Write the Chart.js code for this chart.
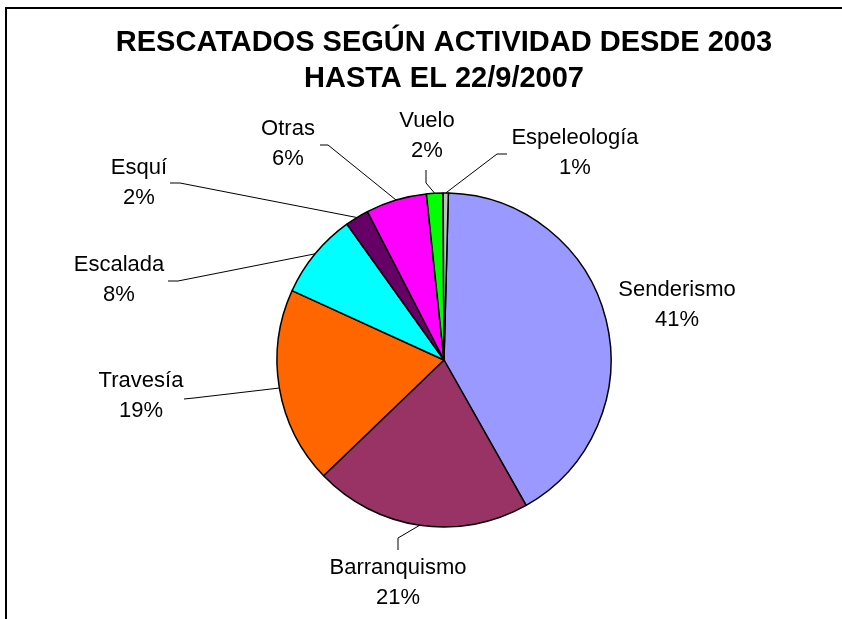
<!DOCTYPE html>
<html>
<head>
<meta charset="utf-8">
<script src="https://cdn.jsdelivr.net/npm/chart.js@4.4.0/dist/chart.umd.min.js"></script>
<style>
  html, body { margin: 0; padding: 0; background: #fff; }
  #wrap { position: relative; width: 842px; height: 619px; }
</style>
</head>
<body>
<div id="wrap"><canvas id="c" width="842" height="619"></canvas></div>
<script>
// ---- data ----
const titleLines = ['RESCATADOS SEGÚN ACTIVIDAD DESDE 2003', 'HASTA EL 22/9/2007'];
const categories = ['Senderismo', 'Barranquismo', 'Travesía', 'Escalada', 'Esquí', 'Otras', 'Vuelo', 'Espeleología'];
const shares = [41.4, 21.0, 19.0, 8.3, 2.3, 5.9, 1.6, 0.5];
const sliceColors = ['#9999FF', '#993366', '#FF6600', '#00FFFF', '#660066', '#FF00FF', '#00FF00', '#C0C0C0'];

// ---- label layout (text centre, leader elbow and end) ----
const labelPos = [
  {x: 677, y: 290, leader: null},
  {x: 398, y: 568, leader: [[398, 538], [398, 550]]},
  {x: 141, y: 381, leader: [[194, 398], [184, 399]]},
  {x: 119, y: 265, leader: [[178, 281], [168, 281]]},
  {x: 139, y: 168, leader: [[180, 183], [170, 183]]},
  {x: 288, y: 129, leader: [[328, 145], [320, 145]]},
  {x: 427, y: 121, leader: [[426, 183], [426, 170]]},
  {x: 575, y: 138, leader: [[497, 154], [507, 154]]}
];

const total = shares.reduce((a, b) => a + b, 0);

const decorPlugin = {
  id: 'decor',
  beforeDraw(chart) {
    const ctx = chart.ctx;
    ctx.save();
    ctx.fillStyle = '#fff';
    ctx.fillRect(0, 0, chart.width, chart.height);
    ctx.strokeStyle = '#000';
    ctx.lineWidth = 2;
    ctx.strokeRect(6, 8, 900, 700);
    ctx.restore();
  },
  afterDraw(chart) {
    const ctx = chart.ctx;
    ctx.save();
    // title
    ctx.fillStyle = '#000';
    ctx.textAlign = 'center';
    ctx.textBaseline = 'middle';
    ctx.font = 'bold 29px "Liberation Sans", Arial, sans-serif';
    ctx.fillText(titleLines[0], 444, 43);
    ctx.fillText(titleLines[1], 444, 79);

    // labels + leaders
    const meta = chart.getDatasetMeta(0);
    ctx.font = '22px "Liberation Sans", Arial, sans-serif';
    meta.data.forEach((arc, i) => {
      const p = labelPos[i];
      const mid = (arc.startAngle + arc.endAngle) / 2;
      const sx = arc.x + Math.cos(mid) * arc.outerRadius;
      const sy = arc.y + Math.sin(mid) * arc.outerRadius;
      if (p.leader) {
        ctx.beginPath();
        ctx.strokeStyle = '#000';
        ctx.lineWidth = 1;
        ctx.moveTo(sx, sy);
        p.leader.forEach(pt => ctx.lineTo(pt[0], pt[1]));
        ctx.stroke();
      }
      const pct = Math.round(shares[i] / total * 100) + '%';
      ctx.fillStyle = '#000';
      ctx.fillText(categories[i], p.x, p.y);
      ctx.fillText(pct, p.x, p.y + 30);
    });
    ctx.restore();
  }
};

new Chart(document.getElementById('c'), {
  type: 'pie',
  data: {
    labels: categories,
    datasets: [{
      data: shares,
      backgroundColor: sliceColors,
      borderColor: '#000',
      borderWidth: 1.5,
      borderAlign: 'center'
    }]
  },
  options: {
    responsive: false,
    animation: false,
    radius: 167,
    rotation: 1.5,
    layout: { padding: { left: 277, right: 231, top: 193, bottom: 92 } },
    plugins: {
      legend: { display: false },
      tooltip: { enabled: false },
      title: { display: false }
    }
  },
  plugins: [decorPlugin]
});
</script>
</body>
</html>
